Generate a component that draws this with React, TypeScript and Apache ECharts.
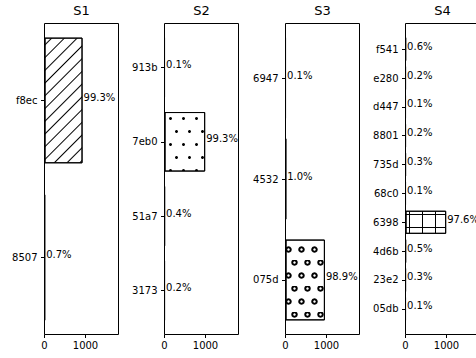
import React, { useEffect, useRef } from 'react';
import * as echarts from 'echarts';

// ---- data (bottom -> top order for each panel) ----
const panelTitles = ['S1', 'S2', 'S3', 'S4'];

const s1Categories = ['8507', 'f8ec'];
const s1Values = [7, 928];

const s2Categories = ['3173', '51a7', '7eb0', '913b'];
const s2Values = [2, 4, 992, 1];

const s3Categories = ['075d', '4532', '6947'];
const s3Values = [961, 10, 1];

const s4Categories = ['05db', '23e2', '4d6b', '6398', '68c0', '735d', '8801', 'd447', 'e280', 'f541'];
const s4Values = [1, 3, 5, 992, 1, 3, 2, 1, 2, 6];

const xTickValues = [0, 1000];
const xMax = 1805;

// ---- layout / style ----
const W = 476;
const H = 358;
const axLeft = [44.5, 164.5, 285.5, 405.5];
const axW = 74;
const axTop = 23.5;
const axBottom = 334.5;
const FONT = 'DejaVu Sans';

const decals: any[] = [
  { symbol: 'rect', symbolSize: 1, dashArrayX: [1, 0], dashArrayY: [1, 8], rotation: -Math.PI / 4, color: '#000' },
  { symbol: 'circle', symbolSize: 1, dashArrayX: [[3, 10], [0, 6, 3, 4]], dashArrayY: [3, 10], rotation: 0, color: '#000' },
  { symbol: 'emptyCircle', symbolSize: 0.9, dashArrayX: [[5, 8], [0, 6, 5, 2]], dashArrayY: [5, 8], rotation: 0, color: '#000' },
  { symbol: 'path://M0,6H13V7H0Z M6,0H7V13H6Z', symbolSize: 1, dashArrayX: [13, 0], dashArrayY: [13, 0], rotation: 0, color: '#000' },
];

function gridFor(i: number, n: number) {
  const h = axBottom - axTop;
  const u = h / ((n - 0.2) * 1.1);
  const d = (0.05 * (n - 0.2) - 0.1) * u;
  const gridBottomY = axBottom - d;
  const gridH = n * u;
  return { left: axLeft[i], width: axW, top: gridBottomY - gridH, height: gridH, offset: d };
}

export default function App() {
  const ref = useRef<HTMLDivElement>(null);
  useEffect(() => {
    if (!ref.current) return;
    const chart = echarts.init(ref.current, undefined, { renderer: 'svg' });
    const cats = [s1Categories, s2Categories, s3Categories, s4Categories];
    const vals = [s1Values, s2Values, s3Values, s4Values];
    const pcts = vals.map((v) => {
      const total = v.reduce((a, b) => a + b, 0);
      return v.map((x) => ((x / total) * 100).toFixed(1) + '%');
    });
    const layouts = cats.map((c, i) => gridFor(i, c.length));

    const option: any = {
      animation: false,
      textStyle: { fontFamily: FONT },
      title: panelTitles.map((t, i) => ({
        text: t,
        left: axLeft[i] + axW / 2,
        top: 4,
        textAlign: 'center',
        padding: 0,
        textStyle: { fontSize: 13, fontWeight: 'normal', color: '#000', fontFamily: FONT },
      })),
      grid: layouts.map((l) => ({
        left: l.left,
        width: l.width,
        top: l.top,
        height: l.height,
        containLabel: false,
        outerBoundsMode: 'none',
      })),
      xAxis: layouts.map((l, i) => ({
        type: 'value',
        gridIndex: i,
        min: 0,
        max: xMax,
        offset: l.offset,
        axisLine: { show: false },
        splitLine: { show: false },
        axisTick: { show: true, length: 3.5, customValues: xTickValues, lineStyle: { color: '#000', width: 1 } },
        axisLabel: {
          customValues: xTickValues,
          fontSize: 10,
          color: '#000',
          margin: 6,
          fontFamily: FONT,
          formatter: (v: number) => String(v),
        },
      })),
      yAxis: cats.map((c, i) => ({
        type: 'category',
        gridIndex: i,
        data: c,
        axisLine: { show: false },
        splitLine: { show: false },
        axisTick: { show: true, alignWithLabel: true, length: 3.5, lineStyle: { color: '#000', width: 1 } },
        axisLabel: { fontSize: 10, color: '#000', margin: 7, fontFamily: FONT },
      })),
      series: vals.map((v, i) => ({
        type: 'bar',
        xAxisIndex: i,
        yAxisIndex: i,
        data: v,
        barCategoryGap: '20%',
        silent: true,
        itemStyle: { color: '#fff', borderColor: '#000', borderWidth: 1, decal: decals[i] },
        label: {
          show: true,
          position: 'right',
          distance: 1,
          offset: [0, -3],
          fontSize: 10,
          color: '#000',
          fontFamily: FONT,
          formatter: (p: any) => pcts[i][p.dataIndex],
        },
      })),
      graphic: layouts.map((l, i) => ({
        type: 'rect',
        silent: true,
        z: 10,
        shape: { x: axLeft[i], y: axTop, width: axW, height: axBottom - axTop },
        style: { fill: 'none', stroke: '#000', lineWidth: 1 },
      })),
    };
    chart.setOption(option);
    return () => chart.dispose();
  }, []);
  return (
    <div
      ref={ref}
      style={{ position: 'fixed', left: 0, top: 0, width: W, height: H, background: '#fff' }}
    />
  );
}
